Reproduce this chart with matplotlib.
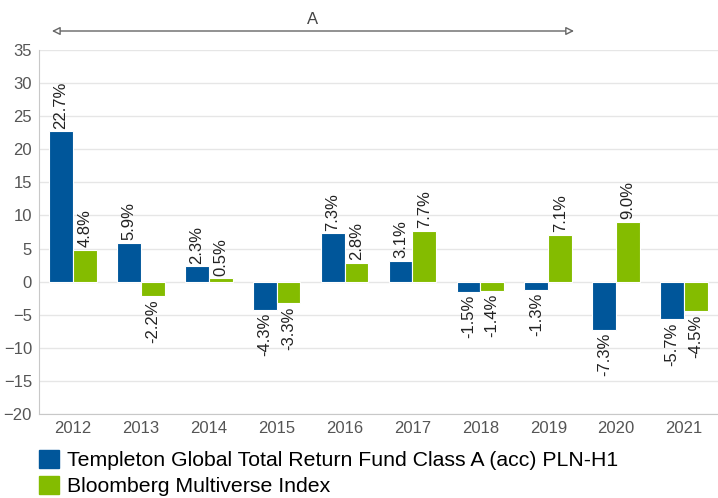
import numpy as np
import matplotlib.pyplot as plt
import matplotlib.transforms as mtransforms
from matplotlib.patches import Patch

plt.rcParams['font.family'] = ['Liberation Sans', 'DejaVu Sans']

years = ['2012', '2013', '2014', '2015', '2016', '2017', '2018', '2019', '2020', '2021']
fund = [22.7, 5.9, 2.3, -4.3, 7.3, 3.1, -1.5, -1.3, -7.3, -5.7]
index = [4.8, -2.2, 0.5, -3.3, 2.8, 7.7, -1.4, 7.1, 9.0, -4.5]
fund_name = 'Templeton Global Total Return Fund Class A (acc) PLN-H1'
index_name = 'Bloomberg Multiverse Index'

blue = '#00569a'
green = '#84bc00'

fig = plt.figure(figsize=(7.18, 4.98), dpi=100)
ax = fig.add_axes([39 / 718, 1 - 414 / 498, 1 - 39 / 718, (414 - 50) / 498])

x = np.arange(len(years))
w = 0.35
b1 = ax.bar(x - w / 2, fund, w, color=blue, edgecolor='white', linewidth=0.8, zorder=3)
b2 = ax.bar(x + w / 2, index, w, color=green, edgecolor='white', linewidth=0.8, zorder=3)

# etiquettes verticales au-dessus / en-dessous des barres
for bars, vals in ((b1, fund), (b2, index)):
    for r, v in zip(bars, vals):
        cx = r.get_x() + r.get_width() / 2
        ax.annotate(f'{v:.1f}%', (cx, v), xytext=(0, 2 if v >= 0 else -2),
                    textcoords='offset points', rotation=90, ha='center',
                    va='bottom' if v >= 0 else 'top', fontsize=12, color='#222222')

ax.set_xlim(-0.5, len(years) - 0.5)
ax.set_ylim(-20, 35)
ax.set_yticks(np.arange(-20, 36, 5))
ax.set_xticks(x)
ax.set_xticklabels(years)
ax.tick_params(axis='both', length=0, labelsize=12, colors='#555555')
ax.tick_params(axis='x', pad=5)
ax.tick_params(axis='y', pad=5)
ax.grid(axis='y', color='#e6e6e6', linewidth=1, zorder=0)
for s in ('top', 'right'):
    ax.spines[s].set_visible(False)
ax.spines['left'].set_color('#c8c8c8')
ax.spines['bottom'].set_color('#c8c8c8')

# fleche "A" au-dessus du graphique
trans = mtransforms.blended_transform_factory(ax.transData, fig.transFigure)
y_arr = 1 - 31 / 498
ax.annotate('', xy=(-0.31, y_arr), xytext=(7.38, y_arr), xycoords=trans, textcoords=trans,
            arrowprops=dict(arrowstyle='<|-|>', ec='#666666', fc='white', lw=1,
                            mutation_scale=12, shrinkA=0, shrinkB=0), annotation_clip=False)
ax.text(3.53, 1 - 19 / 498, 'A', transform=trans, ha='center', va='center',
        fontsize=12, color='#444444')

handles = [Patch(color=blue), Patch(color=green)]
fig.legend(handles, [fund_name, index_name], loc='upper left',
           bbox_to_anchor=(39 / 718, 1 - 450 / 498), frameon=False, fontsize=15.3,
           handlelength=0.95, handleheight=0.95, handletextpad=0.38, labelspacing=0.25,
           borderaxespad=0, borderpad=0)

fig.savefig('out.png', dpi=100)
